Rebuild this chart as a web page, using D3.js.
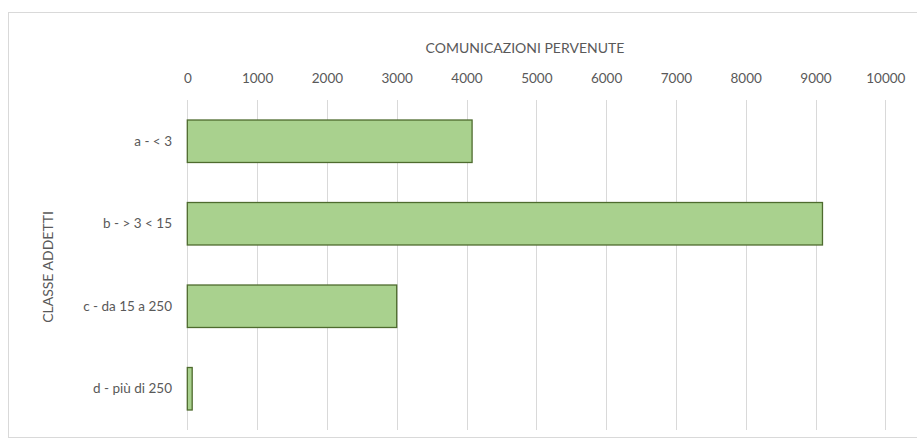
<!DOCTYPE html>
<html><head><meta charset="utf-8">
<script src="https://cdn.jsdelivr.net/npm/d3@7"></script>
<style>body{margin:0;background:#fff}svg{display:block}text{font-family:Lato,"Open Sans",sans-serif;fill:#595959}</style>
</head><body>
<svg id="c" width="917" height="445"></svg>
<script>
const categories = ["a - < 3", "b - > 3 < 15", "c - da 15 a 250", "d - più di 250"];
const values = [4080, 9100, 3000, 70];
const tickValues = [0,1000,2000,3000,4000,5000,6000,7000,8000,9000,10000];
const xTitle = "COMUNICAZIONI PERVENUTE";
const yTitle = "CLASSE ADDETTI";

const svg = d3.select("#c");
svg.append("rect").attr("x",8.5).attr("y",12.5).attr("width",920).attr("height",425)
  .attr("fill","#fff").attr("stroke","#d9d9d9");

const x = d3.scaleLinear().domain([0,10000]).range([187.3,885.3]);
const y = d3.scaleBand().domain(categories).range([100,430]).paddingInner(0.485).paddingOuter(0.2425);

// gridlines
svg.append("g").selectAll("line").data(tickValues).join("line")
  .attr("x1",d=>Math.round(x(d))+0.5).attr("x2",d=>Math.round(x(d))+0.5)
  .attr("y1",100).attr("y2",430).attr("stroke","#d9d9d9").attr("stroke-width",1);

// tick labels
const xa = svg.append("g").attr("transform","translate(0,100)")
  .call(d3.axisTop(x).tickValues(tickValues).tickFormat(d3.format("d")).tickSize(0).tickPadding(17));
xa.select(".domain").remove();
xa.selectAll("text").attr("font-size",13.5).style("font-family","Lato,sans-serif").attr("fill","#595959");

// bars
svg.append("g").selectAll("rect").data(values).join("rect")
  .attr("x",x(0)).attr("y",(d,i)=>y(categories[i]))
  .attr("width",d=>x(d)-x(0)).attr("height",y.bandwidth())
  .attr("fill","#a9d18e").attr("stroke","#4e6b2e").attr("stroke-width",1.3);

// category labels
const ya = svg.append("g").attr("transform","translate(172,0)")
  .call(d3.axisLeft(y).tickSize(0).tickPadding(0));
ya.select(".domain").remove();
ya.selectAll("text").attr("font-size",13.5).style("font-family","Lato,sans-serif").attr("fill","#595959");

svg.append("text").attr("x",525).attr("y",53).attr("text-anchor","middle")
  .attr("font-size",14).text(xTitle);
svg.append("text").attr("transform","translate(53,267) rotate(-90)").attr("text-anchor","middle")
  .attr("font-size",14).text(yTitle);
</script>
</body></html>
